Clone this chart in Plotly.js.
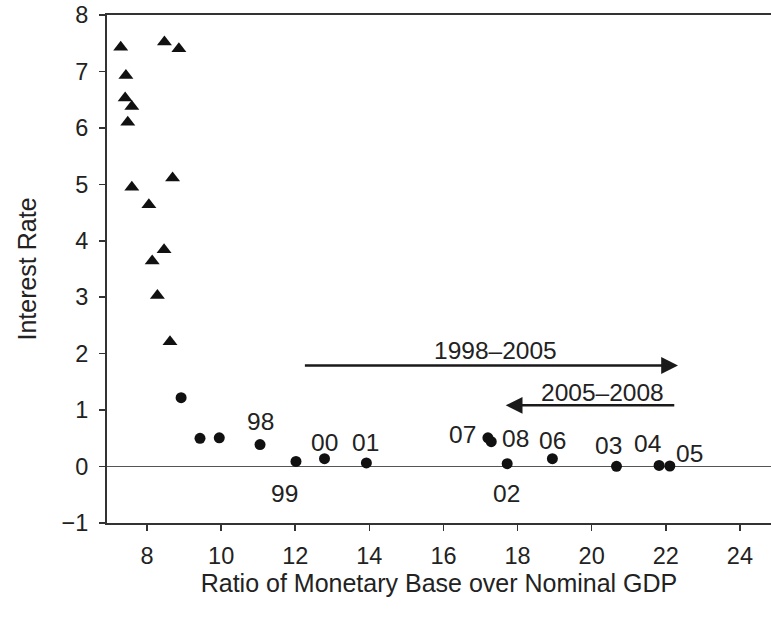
<!DOCTYPE html>
<html>
<head>
<meta charset="utf-8">
<script src="https://cdn.plot.ly/plotly-3.0.1.min.js"></script>
<style>html,body{margin:0;padding:0;background:#fff;}#chart{width:771px;height:617px;}</style>
</head>
<body>
<div id="chart"></div>
<script>
// Triangles (earlier years, before 1998)
const triX = [7.29, 8.47, 8.86, 7.43, 7.41, 7.59, 7.48, 8.69, 7.59, 8.05, 8.46, 8.14, 8.28, 8.62];
const triY = [7.43, 7.52, 7.40, 6.93, 6.53, 6.38, 6.10, 5.11, 4.95, 4.64, 3.84, 3.64, 3.03, 2.21];

// Circles (1995 onward)
const dotX = [8.92, 9.43, 9.95, 11.05, 12.02, 12.79, 13.92, 17.20, 17.29, 17.72, 18.94, 20.67, 21.82, 22.11];
const dotY = [1.22, 0.50, 0.51, 0.39, 0.09, 0.14, 0.065, 0.51, 0.44, 0.05, 0.14, 0.005, 0.02, 0.01];

// Year labels
const yearText = ['98', '99', '00', '01', '07', '08', '02', '06', '03', '04', '05'];
const yearX = [11.06, 11.70, 12.80, 13.90, 16.52, 17.95, 17.70, 18.95, 20.45, 21.50, 22.65];
const yearY = [0.80, -0.47, 0.42, 0.42, 0.57, 0.49, -0.47, 0.46, 0.37, 0.41, 0.24];

// Arrows
const arrowText = ['1998\u20132005', '2005\u20132008'];
const arrowFromX = [12.22, 22.27];
const arrowToX = [22.33, 17.68];
const arrowY = [1.79, 1.085];
const arrowTextX = [17.41, 20.29];
const arrowTextY = [2.06, 1.32];

const xTicks = [8, 10, 12, 14, 16, 18, 20, 22, 24];
const yTicks = [-1, 0, 1, 2, 3, 4, 5, 6, 7, 8];

const FONT = 'Liberation Sans, Arial, Helvetica, sans-serif';
const TXT = '#222';

const traces = [
  {x: triX, y: triY, type: 'scatter', mode: 'markers',
   marker: {symbol: 'triangle-up', size: 13, color: '#111'}, hoverinfo: 'skip'},
  {x: dotX, y: dotY, type: 'scatter', mode: 'markers',
   marker: {symbol: 'circle', size: 11, color: '#111'}, hoverinfo: 'skip'}
];

const annotations = [];
yearText.forEach((t, i) => annotations.push({
  x: yearX[i], y: yearY[i], xref: 'x', yref: 'y', text: t, showarrow: false,
  font: {family: FONT, size: 24.5, color: TXT}
}));
arrowText.forEach((t, i) => {
  annotations.push({
    x: arrowToX[i], y: arrowY[i], ax: arrowFromX[i], ay: arrowY[i],
    xref: 'x', yref: 'y', axref: 'x', ayref: 'y', text: '', showarrow: true,
    arrowhead: 2, arrowsize: 1.4, arrowwidth: 2.4, arrowcolor: '#1a1a1a', standoff: 0, startstandoff: 0
  });
  annotations.push({
    x: arrowTextX[i], y: arrowTextY[i], xref: 'x', yref: 'y', text: t, showarrow: false,
    font: {family: FONT, size: 24.5, color: TXT}
  });
});

const layout = {
  width: 771, height: 617,
  margin: {l: 107, r: 0, t: 15, b: 94},
  paper_bgcolor: '#fff', plot_bgcolor: '#fff',
  showlegend: false,
  font: {family: FONT, color: TXT},
  xaxis: {
    range: [6.92, 24.84], tickvals: xTicks, ticktext: xTicks.map(String),
    showgrid: false, zeroline: false, showline: true, linecolor: '#333', linewidth: 2, mirror: true,
    ticks: 'outside', ticklen: 6, tickwidth: 1.5, tickcolor: '#333',
    tickfont: {family: FONT, size: 23.5, color: TXT}, ticklabelstandoff: 5,
    title: {text: 'Ratio of Monetary Base over Nominal GDP', font: {family: FONT, size: 25, color: TXT}, standoff: 2}
  },
  yaxis: {
    range: [-1, 8], tickvals: yTicks, ticktext: yTicks.map(v => v < 0 ? '\u2212' + Math.abs(v) : String(v)),
    showgrid: false, zeroline: true, zerolinecolor: '#555', zerolinewidth: 1.5,
    showline: true, linecolor: '#333', linewidth: 2,
    ticks: 'outside', ticklen: 6, tickwidth: 1.5, tickcolor: '#333',
    tickfont: {family: FONT, size: 23.5, color: TXT}, ticklabelstandoff: 6,
    title: {text: 'Interest Rate', font: {family: FONT, size: 25, color: TXT}, standoff: 18}
  },
  annotations: annotations
};

Plotly.newPlot('chart', traces, layout, {displayModeBar: false, staticPlot: true});
</script>
</body>
</html>
